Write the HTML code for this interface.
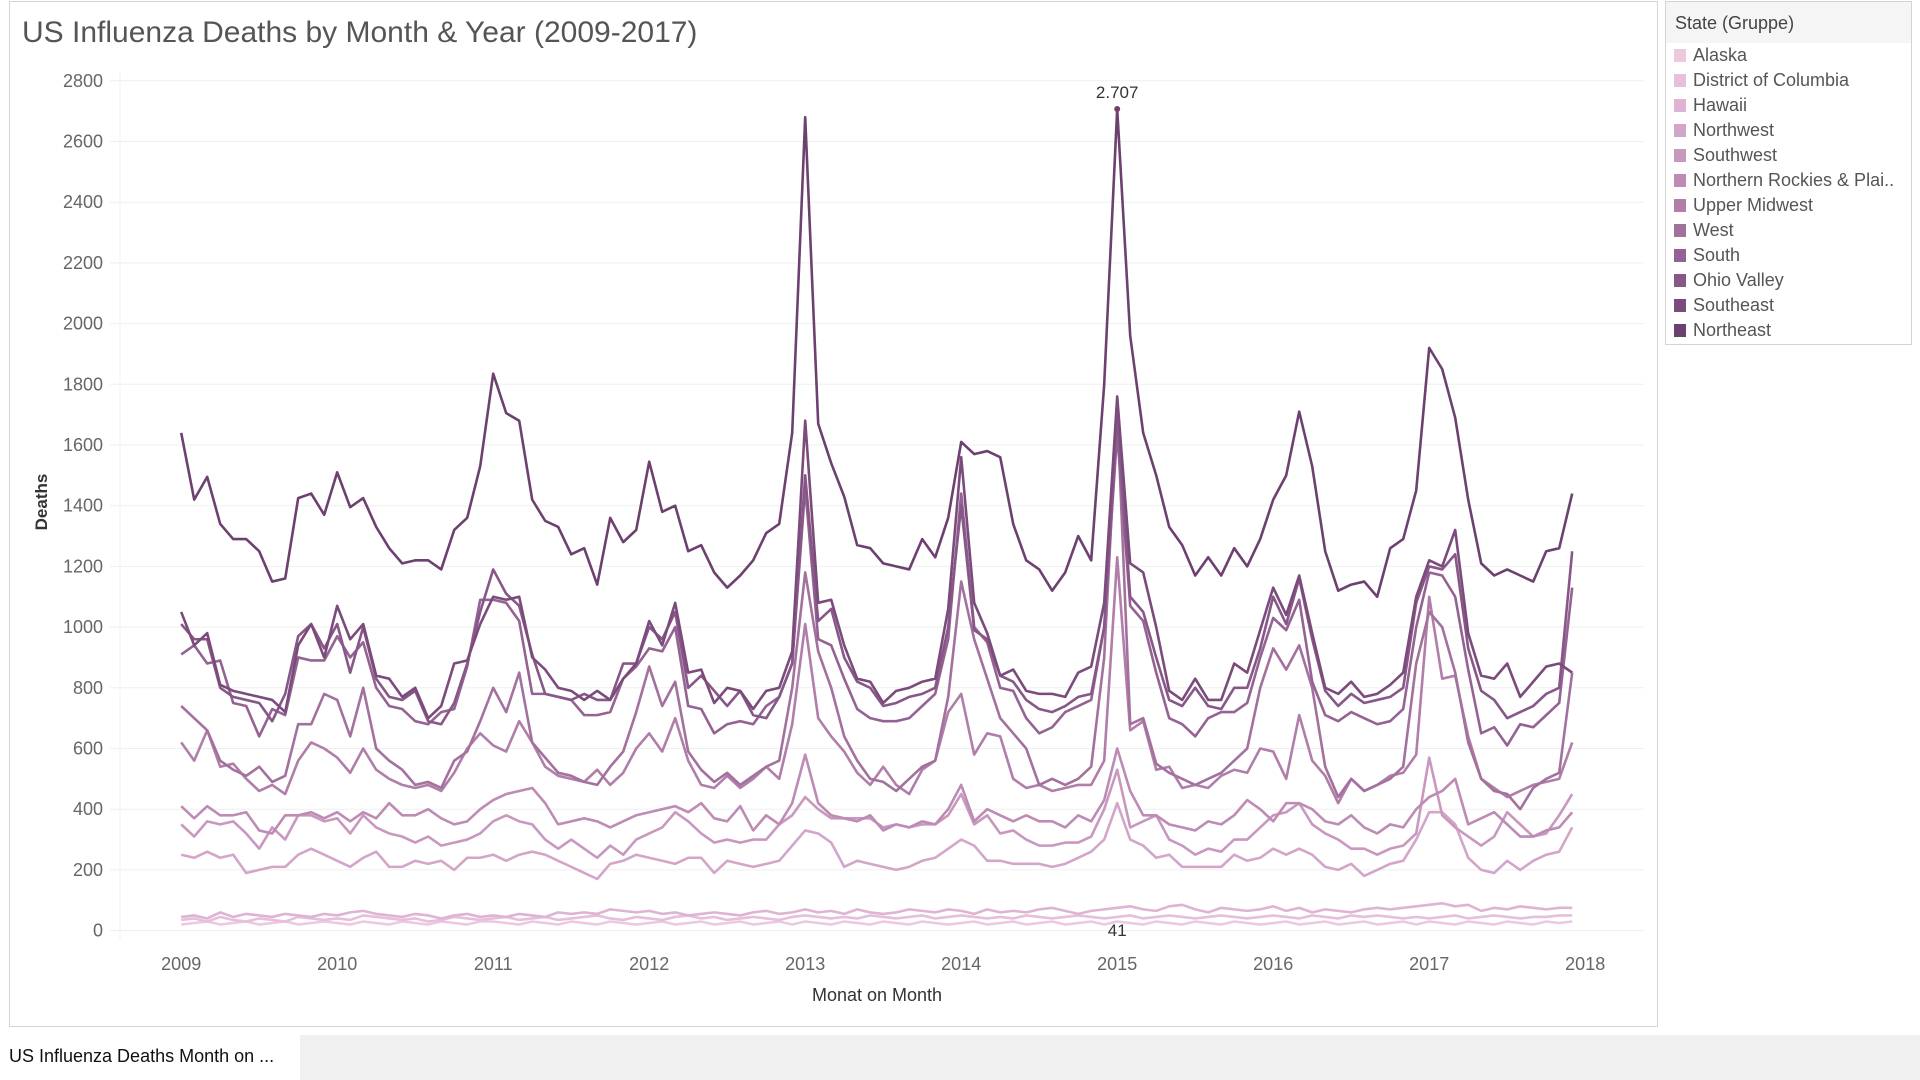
<!DOCTYPE html>
<html><head><meta charset="utf-8"><style>
body{margin:0;width:1920px;height:1080px;background:#fff;font-family:"Liberation Sans",sans-serif;overflow:hidden;position:relative}
.frame{position:absolute;left:9px;top:1px;width:1647px;height:1024px;border:1px solid #d4d4d4}
.title{position:absolute;left:22px;top:16px;font-size:30px;color:#555}
.legend{position:absolute;left:1665px;top:1px;width:245px;height:342px;border:1px solid #d4d4d4}
.lt{height:41px;background:#f5f5f5;font-size:18px;color:#444;padding-left:9px;line-height:42px}
.li{height:25px;font-size:18px;color:#555;position:relative;padding-left:27px;line-height:25px}
.li span{position:absolute;left:8px;top:6px;width:12px;height:13px}
.bottom{position:absolute;left:0;top:1035px;width:1920px;height:45px;background:#f0f0f0}
.tab{position:absolute;left:0;top:0;width:300px;height:45px;background:#fff;font-size:18px;color:#111;line-height:42px;padding-left:9px;box-sizing:border-box}
</style></head><body>
<div class="frame"></div>
<div class="title">US Influenza Deaths by Month &amp; Year (2009-2017)</div>
<svg id="chart" width="1920" height="1080" style="position:absolute;left:0;top:0"></svg>
<div class="legend" id="legend"><div class="lt">State (Gruppe)</div></div>
<div class="bottom"><div class="tab">US Influenza Deaths Month on ...</div></div>
<script>
const seriesNames=["Alaska","District of Columbia","Hawaii","Northwest","Southwest","Northern Rockies & Plai..","Upper Midwest","West","South","Ohio Valley","Southeast","Northeast"];
const yTicks=[0,200,400,600,800,1000,1200,1400,1600,1800,2000,2200,2400,2600,2800];
const xTicks=[2009,2010,2011,2012,2013,2014,2015,2016,2017,2018];
const alaska=[20,25,30,20,25,30,20,25,30,20,25,30,25,20,30,25,20,30,25,20,30,25,20,30,30,25,20,30,25,20,30,25,20,30,25,20,25,30,20,25,30,20,25,30,20,25,30,20,30,25,20,30,25,20,30,25,20,30,25,20,25,30,20,25,30,20,25,30,20,25,30,20,30,25,20,30,25,20,30,25,20,30,25,20,25,30,20,25,30,20,25,30,20,25,30,20,30,25,20,30,25,20,30,25,20,30,25,30];
const dc=[35,40,30,45,35,30,40,35,30,45,40,35,40,35,50,45,40,35,40,30,35,45,40,35,40,45,35,40,45,35,40,45,50,40,35,45,40,35,45,50,40,45,35,40,45,40,35,45,50,45,40,45,40,50,45,40,45,50,40,45,50,45,40,45,40,50,45,40,45,50,45,40,45,50,40,45,50,45,40,45,50,45,40,45,50,45,40,50,45,40,50,45,50,45,40,45,40,45,50,40,45,50,45,40,45,45,50,50];
const hawaii=[45,50,40,60,45,55,50,45,55,50,45,55,50,60,65,55,50,45,55,50,40,50,55,45,50,45,55,50,45,60,55,60,55,70,65,60,65,55,60,50,55,60,55,50,60,65,55,60,70,60,65,55,70,60,55,60,70,65,60,70,65,55,70,60,65,60,70,75,65,55,65,70,75,80,70,65,80,85,70,60,75,70,65,70,80,65,75,60,70,65,60,70,75,70,75,80,85,90,80,85,65,75,70,80,75,70,75,75];
const northwest=[250,240,260,240,250,190,200,210,210,250,270,250,230,210,240,260,210,210,230,220,230,200,240,240,250,230,250,260,250,230,210,190,170,220,230,250,240,230,220,240,240,190,230,220,210,220,230,280,330,320,290,210,230,220,210,200,210,230,240,270,300,280,230,230,220,220,220,210,220,240,260,300,420,300,280,240,250,210,210,210,210,250,230,240,270,250,270,250,210,200,220,180,200,220,230,300,390,390,350,240,200,190,230,200,230,250,260,340];
const southwest=[350,310,360,350,360,320,270,340,300,380,380,360,370,320,380,340,320,310,290,310,280,290,300,320,360,380,360,350,300,270,300,270,240,280,250,300,320,340,390,360,320,290,300,290,300,300,350,380,440,400,370,370,370,370,340,350,340,350,350,380,450,350,380,320,330,300,280,280,290,290,310,400,530,340,360,380,300,280,250,270,260,300,300,340,380,390,420,350,320,300,270,270,250,270,280,320,570,380,340,310,280,310,390,350,310,320,380,450];
const rockies=[410,370,410,380,380,390,330,320,380,380,390,370,390,360,390,370,420,380,380,400,370,350,360,400,430,450,460,470,420,350,360,370,360,340,360,380,390,400,410,390,420,370,360,410,330,380,350,420,580,420,380,370,360,380,330,350,340,360,350,400,480,360,400,380,360,380,360,360,340,380,360,430,600,460,380,380,350,340,330,360,350,380,430,400,360,420,420,400,360,350,380,340,320,350,340,400,440,460,500,350,370,390,350,310,310,330,340,390];
const upperMidwest=[620,560,660,540,550,500,460,480,450,560,620,600,570,520,600,530,500,480,470,480,460,520,600,650,610,590,690,620,540,510,500,490,530,480,520,600,650,590,700,560,480,470,510,470,500,540,500,680,1010,700,640,590,520,480,540,480,450,530,560,720,780,580,650,640,500,470,480,460,470,480,480,560,1230,660,690,530,540,470,480,470,510,530,520,600,590,500,710,560,510,420,500,460,480,510,520,580,1100,830,840,640,500,470,440,460,480,490,500,620];
const west=[740,700,660,560,530,510,540,490,510,680,680,780,760,640,800,600,560,530,480,490,470,560,590,690,800,720,850,620,570,520,510,490,480,540,590,720,870,740,820,590,530,490,520,480,510,540,560,800,1180,920,800,640,560,500,490,460,500,540,560,770,1150,960,830,700,650,600,480,500,480,500,540,900,1720,680,700,550,520,500,480,500,520,560,600,800,930,860,940,800,540,440,500,460,480,500,540,880,1050,1000,850,620,500,460,450,400,470,500,520,850];
const south=[910,940,880,890,750,740,640,730,710,900,890,890,970,900,950,800,740,730,690,680,720,730,870,1090,1090,1080,1020,780,780,770,760,710,710,720,830,870,930,920,1000,740,730,650,680,690,680,740,770,880,1460,960,940,830,730,700,690,690,700,740,780,960,1440,1000,950,800,790,700,650,670,720,740,760,1000,1640,1070,1020,850,700,680,640,700,720,720,750,900,1030,990,1090,820,710,690,720,700,680,690,730,1000,1180,1170,1100,860,650,670,610,680,670,710,750,1130];
const ohioValley=[1010,960,960,800,770,760,750,690,780,970,1010,930,1010,850,1000,830,770,760,790,690,680,750,880,1050,1190,1110,1070,910,780,770,760,780,760,760,880,880,1000,960,1050,800,840,790,740,790,710,700,770,880,1500,1020,1060,900,820,800,740,750,770,780,800,1000,1400,990,960,840,820,760,730,720,740,770,780,1000,1700,1100,1050,900,760,740,800,740,730,800,800,930,1100,1010,1160,960,790,740,780,750,760,770,800,1080,1200,1190,1240,930,790,760,700,720,740,780,800,1250];
const southeast=[1050,940,980,810,790,780,770,760,720,940,1010,900,1070,960,1010,840,830,770,800,700,740,880,890,1010,1100,1090,1100,900,860,800,790,760,790,760,830,880,1020,940,1080,850,860,750,800,790,730,790,800,920,1680,1080,1090,940,830,820,750,790,800,820,830,1060,1560,1080,980,840,860,790,780,780,770,850,870,1080,1760,1210,1180,1000,790,760,830,760,760,880,850,990,1130,1040,1170,980,800,780,820,770,780,810,850,1100,1220,1200,1320,980,840,830,880,770,820,870,880,850];
const northeast=[1640,1420,1495,1340,1290,1290,1250,1150,1160,1425,1440,1370,1510,1395,1425,1330,1260,1210,1220,1220,1190,1320,1360,1530,1835,1705,1680,1420,1350,1330,1240,1260,1140,1360,1280,1320,1545,1380,1400,1250,1270,1180,1130,1170,1220,1310,1340,1640,2680,1670,1540,1430,1270,1260,1210,1200,1190,1290,1230,1360,1610,1570,1580,1560,1340,1220,1190,1120,1180,1300,1220,1800,2707,1960,1640,1500,1330,1270,1170,1230,1170,1260,1200,1290,1420,1500,1710,1530,1250,1120,1140,1150,1100,1260,1290,1450,1920,1850,1690,1420,1210,1170,1190,1170,1150,1250,1260,1440];
const seriesData=[alaska,dc,hawaii,northwest,southwest,rockies,upperMidwest,west,south,ohioValley,southeast,northeast];
const colors=["#ecc9e1","#e6bfdb","#deb3d3","#d3a6c9","#c998bf","#bd8bb4","#b07ea9","#a3719e","#956393","#875787","#7a4b7b","#6c4170"];
const X0=181.2,MW=13.0,Y0=930.6,YK=(930.6-80.8)/2800;
const xs=i=>X0+i*MW, ys=v=>Y0-v*YK;
const svg=document.getElementById('chart'),NS="http://www.w3.org/2000/svg";
function mk(t,a){const e=document.createElementNS(NS,t);for(const k in a)e.setAttribute(k,a[k]);svg.appendChild(e);return e;}
yTicks.forEach(v=>{const l=mk('line',{x1:110,x2:1644,y1:ys(v),y2:ys(v),stroke:'#efefef','stroke-width':1});


const t=mk('text',{x:103,y:ys(v)+6,'text-anchor':'end','font-size':18,fill:'#666'});t.textContent=v;

});
const ax=mk('line',{x1:120,x2:120,y1:70,y2:940,stroke:'#f0f0f0'});


xTicks.forEach((yr,i)=>{const t=mk('text',{x:xs(i*12),y:970,'text-anchor':'middle','font-size':18,fill:'#666'});t.textContent=yr;

});
const xt=mk('text',{x:877,y:1001,'text-anchor':'middle','font-size':18,fill:'#333'});xt.textContent='Monat on Month';


const yt=mk('text',{x:0,y:0,'text-anchor':'middle','font-size':17,'font-weight':'bold',fill:'#333',transform:'translate(47,502) rotate(-90)'});yt.textContent='Deaths';


seriesData.forEach((d,s)=>{const p=mk('polyline',{points:d.map((v,i)=>xs(i)+','+ys(v)).join(' '),fill:'none',stroke:colors[s],'stroke-width':2.6,'stroke-linejoin':'round'});

});
const peak=northeast.indexOf(Math.max(...northeast));
const pm=mk('circle',{cx:xs(peak),cy:ys(northeast[peak]),r:3,fill:colors[11]});


const pl=mk('text',{x:xs(peak),y:ys(northeast[peak])-11,'text-anchor':'middle','font-size':17,fill:'#333'});pl.textContent='2.707';


const ml=mk('text',{x:xs(72),y:936,'text-anchor':'middle','font-size':17,fill:'#333'});ml.textContent='41';


const lg=document.getElementById('legend');
seriesNames.forEach((n,i)=>{const d=document.createElement('div');d.className='li';d.innerHTML='<span style="background:'+colors[i]+'"></span>'+n.replace('&','&amp;');


lg.appendChild(d);});
</script>
</body></html>
